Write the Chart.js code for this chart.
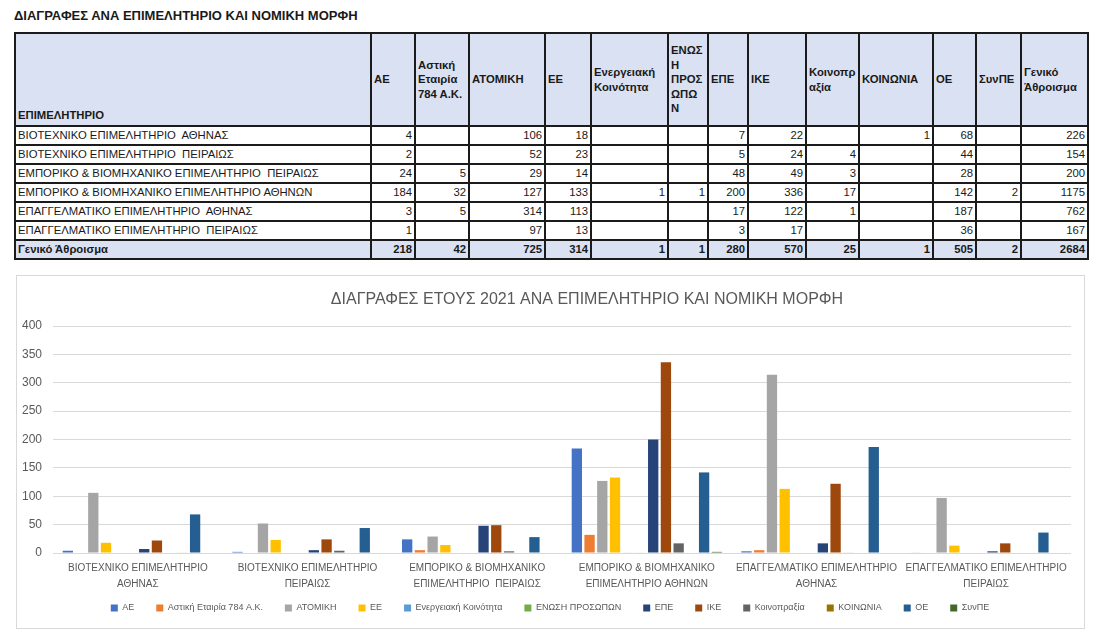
<!DOCTYPE html>
<html lang="el">
<head>
<meta charset="utf-8">
<title>Διαγραφές ανά επιμελητήριο και νομική μορφή</title>
<script src="https://cdn.jsdelivr.net/npm/chart.js@4/dist/chart.umd.min.js"></script>
<style>
  html, body { margin: 0; padding: 0; background: #fff; }
  body { width: 1100px; height: 636px; position: relative; overflow: hidden;
         font-family: "Liberation Sans", Arial, sans-serif; color: #1a1a1a; }
  #page-title { position: absolute; left: 14px; top: 8px; font-size: 13px; font-weight: bold; }
  #summary { position: absolute; left: 14px; top: 32px; width: 1073px; table-layout: fixed;
             border-collapse: collapse; font-size: 11.3px; }
  #summary th, #summary td { border: 2px solid #1b1b1b; padding: 0 2px; white-space: pre; overflow: hidden; }
  #summary thead th { background: #d9e1f2; font-weight: bold; text-align: left; vertical-align: middle;
                      height: 88px; line-height: 14.5px; }
  #summary thead th.first { vertical-align: bottom; padding-bottom: 3px; }
  #summary tbody td { height: 17px; line-height: 17px; }
  #summary tbody td.num { text-align: right; }
  #summary tr.total td { background: #d9e1f2; font-weight: bold; }
  #chart-box { position: absolute; left: 16px; top: 275px; width: 1067px; height: 352px;
               border: 1px solid #d9d9d9; }
</style>
</head>
<body>
<div id="page-title">ΔΙΑΓΡΑΦΕΣ ΑΝΑ ΕΠΙΜΕΛΗΤΗΡΙΟ ΚΑΙ ΝΟΜΙΚΗ ΜΟΡΦΗ</div>
<table id="summary">
  <colgroup id="cols"></colgroup>
  <thead><tr id="head-row"></tr></thead>
  <tbody id="body-rows"></tbody>
</table>
<div id="chart-box"><canvas id="deletionsChart"></canvas></div>

<script>
// chambers (rows of the table, categories of the chart)
const chambers = [
    'ΒΙΟΤΕΧΝΙΚΟ ΕΠΙΜΕΛΗΤΗΡΙΟ  ΑΘΗΝΑΣ',
    'ΒΙΟΤΕΧΝΙΚΟ ΕΠΙΜΕΛΗΤΗΡΙΟ  ΠΕΙΡΑΙΩΣ',
    'ΕΜΠΟΡΙΚΟ & ΒΙΟΜΗΧΑΝΙΚΟ ΕΠΙΜΕΛΗΤΗΡΙΟ  ΠΕΙΡΑΙΩΣ',
    'ΕΜΠΟΡΙΚΟ & ΒΙΟΜΗΧΑΝΙΚΟ ΕΠΙΜΕΛΗΤΗΡΙΟ ΑΘΗΝΩΝ',
    'ΕΠΑΓΓΕΛΜΑΤΙΚΟ ΕΠΙΜΕΛΗΤΗΡΙΟ  ΑΘΗΝΑΣ',
    'ΕΠΑΓΓΕΛΜΑΤΙΚΟ ΕΠΙΜΕΛΗΤΗΡΙΟ  ΠΕΙΡΑΙΩΣ'
];
const chamberLabels = [
    ['ΒΙΟΤΕΧΝΙΚΟ ΕΠΙΜΕΛΗΤΗΡΙΟ', 'ΑΘΗΝΑΣ'],
    ['ΒΙΟΤΕΧΝΙΚΟ ΕΠΙΜΕΛΗΤΗΡΙΟ', 'ΠΕΙΡΑΙΩΣ'],
    ['ΕΜΠΟΡΙΚΟ & ΒΙΟΜΗΧΑΝΙΚΟ', 'ΕΠΙΜΕΛΗΤΗΡΙΟ  ΠΕΙΡΑΙΩΣ'],
    ['ΕΜΠΟΡΙΚΟ & ΒΙΟΜΗΧΑΝΙΚΟ', 'ΕΠΙΜΕΛΗΤΗΡΙΟ ΑΘΗΝΩΝ'],
    ['ΕΠΑΓΓΕΛΜΑΤΙΚΟ ΕΠΙΜΕΛΗΤΗΡΙΟ', 'ΑΘΗΝΑΣ'],
    ['ΕΠΑΓΓΕΛΜΑΤΙΚΟ ΕΠΙΜΕΛΗΤΗΡΙΟ', 'ΠΕΙΡΑΙΩΣ']
];

// legal forms (series)
const formNames = ['ΑΕ', 'Αστική Εταιρία 784 Α.Κ.', 'ΑΤΟΜΙΚΗ', 'ΕΕ', 'Ενεργειακή Κοινότητα', 'ΕΝΩΣΗ ΠΡΟΣΩΠΩΝ',
                   'ΕΠΕ', 'ΙΚΕ', 'Κοινοπραξία', 'ΚΟΙΝΩΝΙΑ', 'ΟΕ', 'ΣυνΠΕ'];
const formHeaders = ['ΑΕ', 'Αστική\nΕταιρία\n784 Α.Κ.', 'ΑΤΟΜΙΚΗ', 'ΕΕ', 'Ενεργειακή\nΚοινότητα', 'ΕΝΩΣ\nΗ\nΠΡΟΣ\nΩΠΩ\nΝ',
                     'ΕΠΕ', 'ΙΚΕ', 'Κοινοπρ\nαξία', 'ΚΟΙΝΩΝΙΑ', 'ΟΕ', 'ΣυνΠΕ'];
const formColors = ['#4472c4', '#ed7d31', '#a5a5a5', '#ffc000', '#5b9bd5', '#70ad47',
                    '#264478', '#9e480e', '#636363', '#997300', '#255e91', '#43682b'];

const ae          = [4, 2, 24, 184, 3, 1];
const astiki      = [null, null, 5, 32, 5, null];
const atomiki     = [106, 52, 29, 127, 314, 97];
const ee          = [18, 23, 14, 133, 113, 13];
const energeiaki  = [null, null, null, 1, null, null];
const enosi       = [null, null, null, 1, null, null];
const epe         = [7, 5, 48, 200, 17, 3];
const ike         = [22, 24, 49, 336, 122, 17];
const koinopraxia = [null, 4, 3, 17, 1, null];
const koinonia    = [1, null, null, null, null, null];
const oe          = [68, 44, 28, 142, 187, 36];
const synpe       = [null, null, null, 2, null, null];

const seriesValues = [ae, astiki, atomiki, ee, energeiaki, enosi, epe, ike, koinopraxia, koinonia, oe, synpe];

const yTicks = [0, 50, 100, 150, 200, 250, 300, 350, 400];

// ---- table ----
const colWidths = [356, 44, 54, 76, 46, 77, 40, 40, 58, 53, 74, 43, 45, 67];
const colsEl = document.getElementById('cols');
colWidths.forEach(w => {
    const c = document.createElement('col');
    c.style.width = w + 'px';
    colsEl.appendChild(c);
});

const headRow = document.getElementById('head-row');
const firstTh = document.createElement('th');
firstTh.className = 'first';
firstTh.textContent = 'ΕΠΙΜΕΛΗΤΗΡΙΟ';
headRow.appendChild(firstTh);
formHeaders.concat(['Γενικό\nΆθροισμα']).forEach(h => {
    const th = document.createElement('th');
    th.textContent = h;
    headRow.appendChild(th);
});

const bodyEl = document.getElementById('body-rows');
function addRow(label, values, total, cls) {
    const tr = document.createElement('tr');
    if (cls) tr.className = cls;
    let html = `<td>${label}</td>`;
    values.forEach(v => { html += `<td class="num">${v == null ? '' : v}</td>`; });
    html += `<td class="num">${total}</td>`;
    tr.innerHTML = html;
    bodyEl.appendChild(tr);
}
const sum = arr => arr.reduce((a, b) => a + (b || 0), 0);
chambers.forEach((name, i) => {
    const rowVals = seriesValues.map(s => s[i]);
    addRow(name, rowVals, sum(rowVals));
});
const colTotals = seriesValues.map(s => sum(s));
addRow('Γενικό Άθροισμα', colTotals, sum(colTotals), 'total');

// ---- chart ----
const textColor = '#595959';
const gridColor = '#d9d9d9';

// nudge title and legend boxes to where Excel put them
const boxNudge = {
    id: 'boxNudge',
    afterLayout(chart) {
        const t = chart.titleBlock;
        if (t) { t.left += 43; t.right += 43; }
        const lg = chart.legend;
        if (lg) { lg.top -= 15.5; lg.bottom -= 15.5; lg.left += 6; lg.right += 6; }
    }
};

const ctx = document.getElementById('deletionsChart').getContext('2d');
const deletionsChart = new Chart(ctx, {
    type: 'bar',
    data: {
        labels: chamberLabels,
        datasets: formNames.map((name, i) => ({
            label: name,
            data: seriesValues[i],
            backgroundColor: formColors[i],
            borderWidth: 0,
            barPercentage: 0.81,
            categoryPercentage: 0.9
        }))
    },
    options: {
        responsive: true,
        maintainAspectRatio: false,
        animation: false,
        layout: { padding: { left: 0, right: 13, top: 0, bottom: -10 } },
        scales: {
            y: {
                min: 0,
                max: 400,
                afterBuildTicks: scale => { scale.ticks = yTicks.map(v => ({ value: v })); },
                afterFit: scale => { scale.width = 36; },
                border: { display: false },
                grid: { color: gridColor, lineWidth: 1, drawTicks: false },
                ticks: { color: textColor, font: { family: 'Liberation Sans', size: 12 }, padding: 11 }
            },
            x: {
                afterFit: scale => { scale.height = 44; },
                border: { display: false },
                grid: { display: false, drawTicks: false },
                ticks: {
                    color: textColor,
                    font: { family: 'Liberation Sans', size: 10, lineHeight: 1.6 },
                    padding: 7,
                    maxRotation: 0,
                    autoSkip: false
                }
            }
        },
        plugins: {
            title: {
                display: true,
                text: 'ΔΙΑΓΡΑΦΕΣ ΕΤΟΥΣ 2021 ΑΝΑ ΕΠΙΜΕΛΗΤΗΡΙΟ ΚΑΙ ΝΟΜΙΚΗ ΜΟΡΦΗ',
                color: textColor,
                font: { family: 'Liberation Sans', size: 16, weight: 'normal', lineHeight: 1.2 },
                padding: { top: 14, bottom: 16.8 }
            },
            legend: {
                position: 'bottom',
                labels: {
                    color: textColor,
                    font: { family: 'Liberation Sans', size: 9 },
                    boxWidth: 7,
                    boxHeight: 7,
                    padding: 22
                }
            },
            tooltip: { enabled: false }
        }
    },
    plugins: [boxNudge]
});
</script>
</body>
</html>
